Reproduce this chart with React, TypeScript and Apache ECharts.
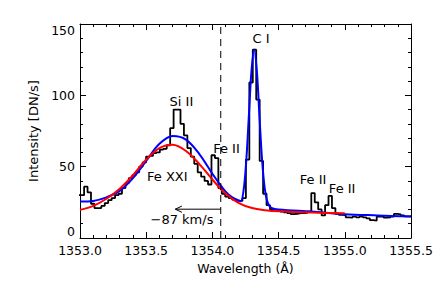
import React, { useEffect, useRef } from "react";
import * as echarts from "echarts";

// Observed spectrum (histogram), bins of constant width starting at HIST_START
const HIST_START = 1352.979;
const BIN_WIDTH = 0.026;
const histCounts = [
  30, 30, 36, 32, 24, 21, 21, 22.5, 24.5, 26.5,
  28, 30, 31, 35, 38.5, 42, 44, 46, 50, 53,
  57, 57.5, 59.5, 60, 62, 62.5, 65, 77, 90, 90,
  80, 72, 63, 57, 52, 46, 43, 40, 37.5, 58,
  56, 35, 31, 29, 28, 27, 26, 26, 28, 55,
  109, 132, 97, 54, 31, 23, 20, 19.7, 19.5, 18.5,
  18, 17.5, 16.8, 17, 17.4, 17.4, 17.8, 18.5, 31.5, 25,
  20, 15.8, 23, 29.5, 21, 17, 16.2, 16, 14.5, 14.3,
  15, 14.5, 15, 14.5, 13.8, 12.5, 12.2, 15, 15, 14.3,
  14.5, 15, 16.9, 16.5, 15.8, 15.2, 15.2,
];

// Total fit (blue)
const blueWave = [
  1353.0, 1353.1, 1353.2, 1353.3, 1353.4, 1353.5, 1353.6, 1353.7, 1353.8, 1353.9,
  1354.0, 1354.05, 1354.1, 1354.15, 1354.2, 1354.215, 1354.235, 1354.255, 1354.275, 1354.295,
  1354.315, 1354.335, 1354.355, 1354.375, 1354.395, 1354.415, 1354.44, 1354.5, 1354.75, 1355.0,
  1355.25, 1355.5,
];
const blueValue = [
  25.5, 26, 28.5, 33, 42, 54, 66, 71.5, 69, 59,
  45, 38.5, 32.5, 28.5, 26.3, 25.8, 33, 53, 85, 117,
  132, 118, 86, 55, 35, 25.5, 21.5, 20, 18.5, 16.7,
  15.8, 15,
];

// Fe XXI component fit (red)
const redWave = [
  1353.0, 1353.1, 1353.2, 1353.3, 1353.4, 1353.5, 1353.6, 1353.7, 1353.8, 1353.9,
  1354.0, 1354.1, 1354.2, 1354.3, 1354.4, 1354.5, 1354.75, 1355.0,
];
const redValue = [
  19.7, 22.5, 27.5, 34.5, 44, 55, 63, 65.3, 61, 52,
  41, 31, 24.5, 21, 19.5, 18.7, 17.8, 17.3,
];

// Fe XXI rest wavelength (dashed) and fitted centroid (arrow tip)
const REST_WAVE = 1354.063;
const SHIFT_WAVE = 1353.72;
const ARROW_LEVEL = 20.2;

const annotations = [
  { text: "Si II", wave: 1353.766, value: 96 },
  { text: "C I", wave: 1354.368, value: 140 },
  { text: "Fe II", wave: 1354.106, value: 63 },
  { text: "Fe XXI", wave: 1353.659, value: 43 },
  { text: "Fe II", wave: 1354.76, value: 41 },
  { text: "Fe II", wave: 1354.98, value: 34.4 },
  { text: "\u221287 km/s", wave: 1353.77, value: 13 },
];

const X_TICKS = { min: 1353.0, max: 1355.5, interval: 0.5 };
const Y_TICKS = { min: 0, max: 150, interval: 50 };

const FONT = "DejaVu Sans";

export default function App() {
  const ref = useRef<HTMLDivElement>(null);

  useEffect(() => {
    if (!ref.current) return;
    const chart = echarts.init(ref.current, null, { renderer: "svg" });

    const histPoints: number[][] = histCounts.map((v, i) => [HIST_START + i * BIN_WIDTH, v]);
    histPoints.push([HIST_START + histCounts.length * BIN_WIDTH, histCounts[histCounts.length - 1]]);
    const bluePoints = blueWave.map((w, i) => [w, blueValue[i]]);
    const redPoints = redWave.map((w, i) => [w, redValue[i]]);

    const axisCommon = {
      axisLine: { show: true, onZero: false, lineStyle: { color: "#000", width: 1 } },
      axisTick: { show: true, inside: true, length: 6, lineStyle: { color: "#000", width: 1 } },
      minorTick: { show: true, splitNumber: 5, length: 3, lineStyle: { color: "#000", width: 1 } },
      splitLine: { show: false },
    };

    chart.setOption({
      animation: false,
      backgroundColor: "#fff",
      grid: { left: 80, top: 24, width: 331, height: 214, containLabel: false },
      xAxis: [
        {
          type: "value",
          ...X_TICKS,
          position: "bottom",
          ...axisCommon,
          axisLabel: {
            margin: 6,
            color: "#000",
            fontFamily: FONT,
            fontSize: 12.5,
            formatter: (v: number) => v.toFixed(1),
          },
          name: "Wavelength (\u00C5)",
          nameLocation: "middle",
          nameGap: 21,
          nameTextStyle: { color: "#000", fontFamily: FONT, fontSize: 12.5 },
        },
        {
          type: "value",
          ...X_TICKS,
          position: "top",
          ...axisCommon,
          axisLabel: { show: false },
        },
      ],
      yAxis: [
        {
          type: "value",
          ...Y_TICKS,
          position: "left",
          ...axisCommon,
          axisLabel: {
            margin: 5,
            color: "#000",
            fontFamily: FONT,
            fontSize: 12.5,
            verticalAlignMinLabel: "bottom",
            verticalAlignMaxLabel: "top",
          },
          name: "Intensity [DN/s]",
          nameLocation: "middle",
          nameGap: 38,
          nameTextStyle: { color: "#000", fontFamily: FONT, fontSize: 13 },
        },
        {
          type: "value",
          ...Y_TICKS,
          position: "right",
          ...axisCommon,
          axisLabel: { show: false },
        },
      ],
      series: [
        {
          type: "line",
          data: histPoints,
          step: "end",
          symbol: "none",
          lineStyle: { color: "#000", width: 1.8 },
          clip: true,
          z: 2,
        },
        {
          type: "line",
          data: bluePoints,
          smooth: 0.35,
          symbol: "none",
          lineStyle: { color: "#0000ff", width: 2 },
          z: 3,
        },
        {
          type: "line",
          data: redPoints,
          smooth: 0.35,
          symbol: "none",
          lineStyle: { color: "#ff0000", width: 2 },
          z: 4,
        },
        {
          type: "line",
          data: [
            [REST_WAVE, Y_TICKS.min],
            [REST_WAVE, Y_TICKS.max],
          ],
          symbol: "none",
          lineStyle: { color: "#000", width: 1, type: [7, 5] },
          z: 5,
        },
        {
          type: "line",
          data: [
            [REST_WAVE, ARROW_LEVEL],
            [SHIFT_WAVE, ARROW_LEVEL],
          ],
          symbol: "none",
          lineStyle: { color: "#000", width: 1 },
          z: 5,
        },
        {
          type: "line",
          data: [
            [SHIFT_WAVE + 0.05, ARROW_LEVEL + 2.2],
            [SHIFT_WAVE, ARROW_LEVEL],
            [SHIFT_WAVE + 0.05, ARROW_LEVEL - 2.2],
          ],
          symbol: "none",
          lineStyle: { color: "#000", width: 1 },
          z: 5,
        },
      ],
    });

    const texts = annotations.map((a) => {
      const p = chart.convertToPixel({ xAxisIndex: 0, yAxisIndex: 0 }, [a.wave, a.value]) as number[];
      return {
        type: "text",
        x: p[0],
        y: p[1],
        z: 10,
        style: {
          text: a.text,
          fill: "#000",
          font: `13px "${FONT}"`,
          textAlign: "center",
          textVerticalAlign: "middle",
        },
      };
    });
    chart.setOption({ graphic: texts });

    return () => chart.dispose();
  }, []);

  return (
    <div
      ref={ref}
      style={{ position: "fixed", left: 0, top: 0, width: 436, height: 290, background: "#fff" }}
    />
  );
}
